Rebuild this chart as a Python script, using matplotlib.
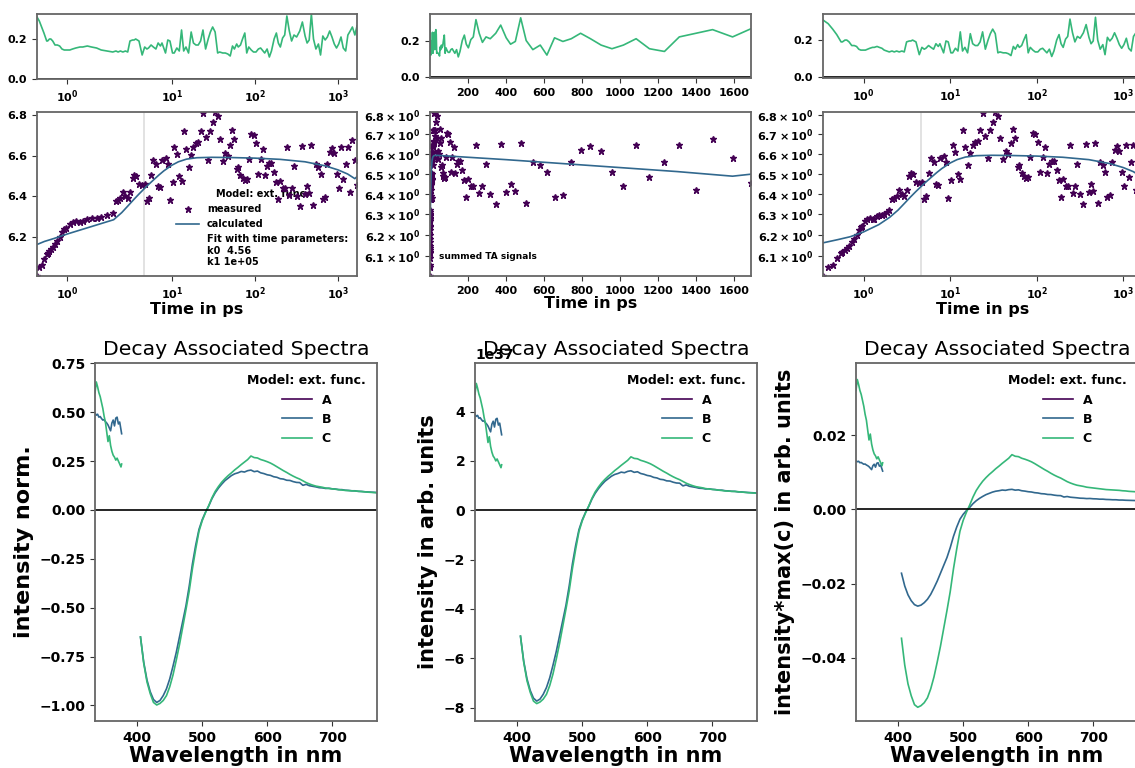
import numpy as np
import matplotlib
matplotlib.use("Agg")
import matplotlib.pyplot as plt
from matplotlib.ticker import FixedLocator, FuncFormatter, NullLocator

# ---- kinetic trace (summed TA signal), residuals and fit ----
times = [0.34, 0.39, 0.44, 0.49, 0.55, 0.57, 0.61, 0.64, 0.68, 0.73,
         0.78, 0.83, 0.88, 0.93, 0.97, 1.05, 1.11, 1.18, 1.27, 1.33,
         1.43, 1.52, 1.63, 1.73, 1.85, 1.98, 2.13, 2.26, 2.41, 2.58,
         2.77, 2.95, 3.14, 3.37, 3.52, 3.68, 4.03, 4.40, 4.72, 5.02,
         5.25, 5.63, 6.0, 6.44, 6.85, 7.3, 7.62, 8.4, 8.95, 9.5,
         10.2, 10.7, 11.5, 12.3, 13.1, 13.9, 14.8, 15.9, 17.1, 18.2,
         19.5, 20.8, 22.2, 23.7, 25.5, 27.4, 29.1, 31.0, 33.2, 35.6,
         37.6, 41.0, 44.0, 47.2, 50.4, 53.7, 56.6, 60.3, 63.0, 67.0,
         70.9, 75.5, 79.7, 84.2, 90.3, 96.1, 103, 110, 117, 125,
         131, 140, 149, 158, 170, 181, 191, 202, 215, 228,
         242, 259, 276, 295, 317, 346, 372, 401, 424, 449,
         477, 506, 541, 580, 615, 655, 699, 743, 792, 844,
         900, 957, 1017, 1084, 1154, 1233, 1311, 1399, 1486, 1591,
         1688]

measured = [6.008, 6.05, 6.06, 6.09, 6.115, 6.12, 6.13, 6.14, 6.15, 6.165,
            6.18, 6.20, 6.225, 6.24, 6.245, 6.265, 6.275, 6.28, 6.275, 6.278,
            6.29, 6.295, 6.295, 6.30, 6.31, 6.32, 6.375, 6.38, 6.39, 6.42,
            6.40, 6.39, 6.42, 6.49, 6.505, 6.50, 6.46, 6.455, 6.46, 6.375,
            6.39, 6.505, 6.58, 6.56, 6.45, 6.445, 6.58, 6.59, 6.56, 6.38,
            6.47, 6.645, 6.61, 6.50, 6.475, 6.72, 6.635, 6.545, 6.605, 6.645,
            6.66, 6.665, 6.72, 6.81, 6.69, 6.58, 6.72, 6.765, 6.815, 6.795,
            6.68, 6.575, 6.615, 6.60, 6.655, 6.725, 6.68, 6.535, 6.545, 6.505,
            6.49, 6.48, 6.485, 6.585, 6.705, 6.70, 6.66, 6.51, 6.585, 6.635,
            6.505, 6.55, 6.565, 6.565, 6.52, 6.47, 6.385, 6.475, 6.44, 6.44,
            6.645, 6.405, 6.44, 6.55, 6.40, 6.35, 6.65, 6.41, 6.45, 6.415,
            6.655, 6.355, 6.56, 6.545, 6.51, 6.385, 6.395, 6.56, 6.62, 6.64,
            6.615, 6.51, 6.44, 6.645, 6.485, 6.56, 6.645, 6.42, 6.675, 6.58,
            6.455]

residual = [0.31, 0.29, 0.26, 0.23, 0.19, 0.19, 0.20, 0.20, 0.19, 0.17,
            0.17, 0.165, 0.15, 0.145, 0.145, 0.145, 0.15, 0.155, 0.16, 0.16,
            0.165, 0.16, 0.155, 0.145, 0.14, 0.135, 0.14, 0.135, 0.14, 0.135,
            0.14, 0.135, 0.19, 0.195, 0.195, 0.20, 0.19, 0.12, 0.16, 0.15,
            0.155, 0.17, 0.16, 0.15, 0.18, 0.165, 0.18, 0.13, 0.195, 0.19,
            0.13, 0.13, 0.155, 0.14, 0.245, 0.14, 0.16, 0.13, 0.235, 0.18,
            0.17, 0.17, 0.19, 0.245, 0.15, 0.20, 0.235, 0.26, 0.235, 0.13,
            0.135, 0.13, 0.13, 0.125, 0.115, 0.165, 0.15, 0.175, 0.16, 0.17,
            0.20, 0.23, 0.13, 0.16, 0.145, 0.135, 0.135, 0.15, 0.155, 0.14,
            0.13, 0.15, 0.11, 0.14, 0.20, 0.23, 0.18, 0.16, 0.205, 0.22,
            0.315, 0.24, 0.19, 0.22, 0.21, 0.24, 0.285, 0.215, 0.18, 0.195,
            0.325, 0.20, 0.15, 0.175, 0.12, 0.215, 0.195, 0.21, 0.24, 0.21,
            0.175, 0.155, 0.175, 0.21, 0.155, 0.14, 0.22, 0.24, 0.26, 0.22,
            0.265]

fit_times = [0.34, 0.5, 0.7, 1.0, 1.5, 2.0, 2.5, 3.0, 3.5, 4.0, 5.0, 6.0, 7.0, 8.0,
             10, 12, 15, 20, 30, 50, 100, 200, 400, 700, 1000, 1300, 1591, 1688]
fit_vals = [6.163, 6.178, 6.192, 6.215, 6.25, 6.285, 6.32, 6.355, 6.385, 6.41,
            6.45, 6.48, 6.505, 6.525, 6.553, 6.57, 6.583, 6.59, 6.592, 6.591,
            6.588, 6.582, 6.57, 6.55, 6.53, 6.51, 6.487, 6.497]

t_mark = 4.6
log_yticks = [6.1, 6.2, 6.3, 6.4, 6.5, 6.6, 6.7, 6.8]

# ---- decay associated spectra (normalised) ----
wl_uv = [335, 337, 339, 341, 343, 345, 347, 349, 351, 353, 355,
         357, 359, 361, 363, 365, 367, 369, 371, 373, 375, 376]
B_uv = [0.495, 0.485, 0.49, 0.475, 0.478, 0.468, 0.46, 0.462, 0.452, 0.445, 0.435,
        0.42, 0.405, 0.445, 0.46, 0.43, 0.47, 0.475, 0.44, 0.45, 0.41, 0.39]
C_uv = [0.60, 0.655, 0.63, 0.60, 0.58, 0.55, 0.52, 0.48, 0.45, 0.40, 0.35,
        0.38, 0.33, 0.30, 0.28, 0.27, 0.255, 0.265, 0.25, 0.235, 0.22, 0.235]

wl_vis = [405, 410, 415, 420, 425, 430, 435, 440, 445, 450,
          455, 460, 465, 470, 475, 480, 485, 490, 495, 500,
          505, 510, 515, 520, 525, 530, 535, 540, 545, 550,
          555, 560, 565, 570, 575, 580, 585, 590, 595, 600,
          605, 610, 615, 620, 625, 630, 635, 640, 645, 650,
          655, 660, 665, 670, 675, 680, 685, 690, 695, 700,
          705, 710, 715, 720, 725, 730, 735, 740, 745, 750,
          755, 760, 765, 769]
B_vis = [-0.65, -0.78, -0.87, -0.93, -0.97, -0.985, -0.975, -0.95, -0.915, -0.865,
         -0.80, -0.73, -0.65, -0.57, -0.49, -0.39, -0.275, -0.18, -0.10, -0.05,
         -0.012, 0.02, 0.058, 0.088, 0.112, 0.132, 0.15, 0.163, 0.176, 0.185,
         0.19, 0.197, 0.194, 0.201, 0.204, 0.196, 0.199, 0.19, 0.186, 0.18,
         0.177, 0.17, 0.167, 0.16, 0.158, 0.152, 0.151, 0.145, 0.141, 0.14,
         0.126, 0.131, 0.124, 0.121, 0.118, 0.114, 0.113, 0.11, 0.111, 0.108,
         0.107, 0.104, 0.104, 0.101, 0.1, 0.098, 0.098, 0.095, 0.095, 0.093,
         0.092, 0.091, 0.09, 0.089]
C_vis = [-0.65, -0.785, -0.88, -0.94, -0.985, -0.998, -0.99, -0.975, -0.95, -0.905,
         -0.845, -0.77, -0.69, -0.60, -0.51, -0.415, -0.30, -0.20, -0.11, -0.055,
         -0.014, 0.022, 0.062, 0.095, 0.12, 0.142, 0.16, 0.176, 0.19, 0.205,
         0.218, 0.232, 0.245, 0.258, 0.276, 0.268, 0.266, 0.258, 0.253, 0.247,
         0.24, 0.231, 0.221, 0.211, 0.201, 0.192, 0.182, 0.173, 0.165, 0.158,
         0.149, 0.14, 0.133, 0.127, 0.122, 0.119, 0.116, 0.112, 0.11, 0.108,
         0.106, 0.104, 0.102, 0.1, 0.099, 0.098, 0.097, 0.096, 0.094, 0.093,
         0.091, 0.09, 0.089, 0.088]

# amplitude scaling for the arb.-unit and intensity*max(c) views
arb_scale = 7.85e37
cmax_B = 0.0265
cmax_C = 0.0535

col_A, col_B, col_C = "#440154", "#31688e", "#35b779"

plt.rcParams["font.family"] = "DejaVu Sans"
plt.rcParams["font.weight"] = "bold"
plt.rcParams["axes.labelweight"] = "bold"

W, H = 1135, 768
fig = plt.figure(figsize=(W / 100, H / 100), dpi=100)


def px_axes(x0, y0, x1, y1):
    return fig.add_axes([x0 / W, 1 - y1 / H, (x1 - x0) / W, (y1 - y0) / H])


def style(ax, size):
    for s in ax.spines.values():
        s.set_color("#666666")
        s.set_linewidth(1.3)
    ax.tick_params(which="major", length=3.5, width=0.8, color="#333333",
                   pad=3.5, labelsize=size)
    ax.tick_params(which="minor", length=0)


spec_wl = np.concatenate([wl_uv, [np.nan], wl_vis])
B_norm = np.concatenate([B_uv, [np.nan], B_vis])
C_norm = np.concatenate([C_uv, [np.nan], C_vis])

columns = [
    dict(x0=37, x1=357, res_bottom=79, xscale="symlog", res_ylim=(0, max(residual)),
         ylog=False, labelpad=-0.5),
    dict(x0=430, x1=751, res_bottom=78, xscale="linear", res_ylim=(-0.006, 0.346),
         ylog=True, labelpad=0),
    dict(x0=823, x1=1143, res_bottom=78, xscale="log", res_ylim=(-0.008, 0.343),
         ylog=True, labelpad=-0.5),
]

for i, c in enumerate(columns):
    ax_r = px_axes(c["x0"], 14, c["x1"], c["res_bottom"])
    ax_k = px_axes(c["x0"], 112, c["x1"], 276)
    for ax in (ax_r, ax_k):
        if c["xscale"] == "symlog":
            ax.set_xscale("symlog", linthresh=2, linscale=1)
        elif c["xscale"] == "log":
            ax.set_xscale("log")
        ax.set_xlim(times[0], times[-1])
        style(ax, 8)

    ax_r.plot(times, residual, color=col_C, lw=1.2)
    ax_r.axhline(0, color="black", lw=1.2)
    ax_r.set_ylim(*c["res_ylim"])
    ax_r.set_yticks([0.0, 0.2])

    if i != 1:
        ax_k.axvline(t_mark, color="#dddddd", lw=1.2, zorder=0)
    ax_k.plot(times, measured, ls="", marker="*", ms=4.8, color=col_A, label="measured")
    ax_k.plot(fit_times, fit_vals, color=col_B, lw=1.2, label="calculated")
    if c["ylog"]:
        ax_k.set_yscale("log")
        ax_k.yaxis.set_major_locator(FixedLocator(log_yticks))
        ax_k.yaxis.set_major_formatter(
            FuncFormatter(lambda v, p: r"$\mathdefault{%.1f\times10^{0}}$" % v))
        ax_k.yaxis.set_minor_locator(NullLocator())
    else:
        ax_k.set_yticks([6.2, 6.4, 6.6, 6.8])
    ax_k.set_ylim(min(measured), max(measured))
    ax_k.set_xlabel("Time in ps", fontsize=11.5, labelpad=c["labelpad"])

    if i == 0:
        ax_k.plot([], [], ls=" ", label="Fit with time parameters:\nk0  4.56\nk1 1e+05")
        leg = ax_k.legend(loc="lower right", frameon=False, fontsize=7,
                          title="Model: ext. func.", handlelength=2.4,
                          title_fontproperties={"weight": "bold", "size": 7})
        leg.set_zorder(1)
    if i == 1:
        ax_k.text(0.028, 0.12, "summed TA signals", transform=ax_k.transAxes,
                  fontsize=6.5, va="center", ha="left")

# ---- spectra row ----
das = [
    dict(x0=95, B=B_norm, C=C_norm, ylim=(-1.08, 0.752), ylabel="intensity norm.", ysize=16),
    dict(x0=475, B=B_norm * arb_scale, C=C_norm * arb_scale, ylim=(-8.54e37, 5.97e37),
         ylabel="intensity in arb. units", ysize=15),
    dict(x0=856, B=B_norm * cmax_B, C=C_norm * cmax_C, ylim=(-0.0571, 0.0395),
         ylabel="intensity*max(c) in arb. units", ysize=15),
]

for d in das:
    ax = px_axes(d["x0"], 363, d["x0"] + 282, 721)
    style(ax, 10)
    ax.plot([], [], color=col_A, lw=1.2, label="A")
    ax.plot(spec_wl, d["B"], color=col_B, lw=1.2, label="B")
    ax.plot(spec_wl, d["C"], color=col_C, lw=1.2, label="C")
    ax.axhline(0, color="black", lw=1.2)
    ax.set_xlim(335, 769)
    ax.set_ylim(*d["ylim"])
    ax.set_xticks([400, 500, 600, 700])
    ax.yaxis.get_offset_text().set_fontsize(10)
    ax.set_xlabel("Wavelength in nm", fontsize=15, labelpad=1)
    ax.set_ylabel(d["ylabel"], fontsize=d["ysize"])
    ax.set_title("Decay Associated Spectra", fontsize=14.7, fontweight="normal", y=1.0)
    ax.legend(loc="upper right", frameon=False, fontsize=9, title="Model: ext. func.",
              handlelength=2.4, title_fontproperties={"weight": "bold", "size": 9})

fig.savefig("out.png", dpi=100)
